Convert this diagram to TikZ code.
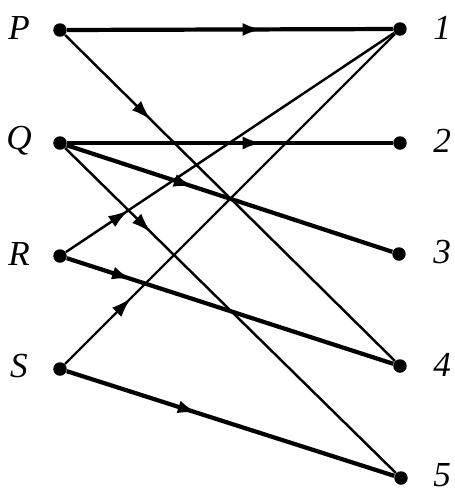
\documentclass[tikz,border=0pt]{standalone}
\usepackage{fontspec}
\setmainfont{Liberation Serif}
\usepackage{tikz}
\usetikzlibrary{arrows.meta,decorations.markings}
\tikzset{
  dot/.style={circle, fill=black, inner sep=0pt, minimum size=0.27cm},
  lbl/.style={font=\fontsize{20}{24}\selectfont\itshape, inner sep=0pt},
  midarrow/.style={postaction={decorate}, decoration={markings,
      mark=at position #1 with {\arrow{Latex[length=0.4cm, width=0.26cm]}}}},
  heavy/.style={line width=2.4pt},
  light/.style={line width=1.4pt},
}

\begin{document}
\begin{tikzpicture}
        \useasboundingbox (0,0) rectangle (9.08,-9.86);
        \node[dot] (p) at (1.2,-0.6) {};
        \node[dot] (q) at (1.2,-2.86) {};
        \node[dot] (r) at (1.2,-5.12) {};
        \node[dot] (s) at (1.2,-7.38) {};
        \node[dot] (n1) at (8.0,-0.58) {};
        \node[dot] (n2) at (8.0,-2.86) {};
        \node[dot] (n3) at (7.98,-5.08) {};
        \node[dot] (n4) at (8.0,-7.32) {};
        \node[dot] (n5) at (8.02,-9.56) {};
        \node[lbl] (lp) at (0.38,-0.55) {P};
        \node[lbl] (lq) at (0.38,-2.81) {Q};
        \node[lbl] (lr) at (0.38,-5.07) {R};
        \node[lbl] (ls) at (0.38,-7.33) {S};
        \node[lbl, anchor=west] (l1) at (8.66,-0.55) {1};
        \node[lbl, anchor=west] (l2) at (8.66,-2.81) {2};
        \node[lbl, anchor=west] (l3) at (8.66,-5.05) {3};
        \node[lbl, anchor=west] (l4) at (8.66,-7.29) {4};
        \node[lbl, anchor=west] (l5) at (8.66,-9.5) {5};
        % edges
        \draw[heavy, midarrow=0.6] (p) -- (n1);
        \draw[light, midarrow=0.26] (p) -- (n4);
        \draw[heavy, midarrow=0.6] (q) -- (n2);
        \draw[heavy, midarrow=0.39] (q) -- (n3);
        \draw[light, midarrow=0.26] (q) -- (n5);
        \draw[light, midarrow=0.19] (r) -- (n1);
        \draw[heavy, midarrow=0.2] (r) -- (n4);
        \draw[light, midarrow=0.2] (s) -- (n1);
        \draw[heavy, midarrow=0.4] (s) -- (n5);
      \end{tikzpicture}
\end{document}
